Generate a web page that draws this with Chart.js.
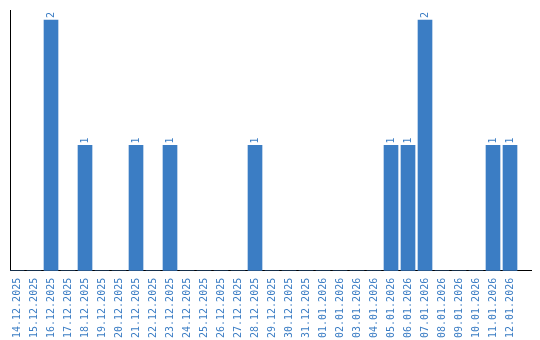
<!DOCTYPE html>
<html>
<head>
<meta charset="utf-8">
<script src="https://cdn.jsdelivr.net/npm/chart.js@4/dist/chart.umd.min.js"></script>
<style>
html,body{margin:0;padding:0;background:#fff;}
#wrap{width:540px;height:340px;}
</style>
</head>
<body>
<div id="wrap"><canvas id="c" width="540" height="340"></canvas></div>
<script>
const categories = ["14.12.2025","15.12.2025","16.12.2025","17.12.2025","18.12.2025","19.12.2025","20.12.2025","21.12.2025","22.12.2025","23.12.2025","24.12.2025","25.12.2025","26.12.2025","27.12.2025","28.12.2025","29.12.2025","30.12.2025","31.12.2025","01.01.2026","02.01.2026","03.01.2026","04.01.2026","05.01.2026","06.01.2026","07.01.2026","08.01.2026","09.01.2026","10.01.2026","11.01.2026","12.01.2026"];
const counts = [0,0,2,0,1,0,0,1,0,1,0,0,0,0,1,0,0,0,0,0,0,0,1,1,2,0,0,0,1,1];

const BLUE = '#3b7dc4';
const FONT = '"DejaVu Sans Mono"';

const valueLabels = {
  id: 'valueLabels',
  afterDatasetsDraw(chart) {
    const ctx = chart.ctx;
    const meta = chart.getDatasetMeta(0);
    ctx.save();
    ctx.fillStyle = BLUE;
    ctx.font = '10px ' + FONT;
    ctx.textAlign = 'left';
    ctx.textBaseline = 'middle';
    meta.data.forEach((el, i) => {
      const v = counts[i];
      if (!v) return;
      ctx.save();
      ctx.translate(el.x, el.y - 2);
      ctx.rotate(-Math.PI / 2);
      ctx.fillText(String(v), 0, 0);
      ctx.restore();
    });
    ctx.restore();
  }
};

new Chart(document.getElementById('c'), {
  type: 'bar',
  data: {
    datasets: [{
      data: counts.map((v, i) => ({x: i, y: v})),
      backgroundColor: BLUE,
      borderWidth: 0,
      barThickness: 14
    }]
  },
  options: {
    responsive: false,
    animation: false,
    events: [],
    layout: {padding: {left: 10, top: 10, right: 9, bottom: -5}},
    plugins: {legend: {display: false}, tooltip: {enabled: false}},
    scales: {
      x: {
        type: 'linear',
        offset: false,
        min: -0.412,
        max: 30.235,
        grid: {display: false, drawTicks: false, offset: false},
        border: {display: true, color: '#000', width: 1},
        afterBuildTicks(scale) {
          scale.ticks = categories.map((_, i) => ({value: i}));
        },
        ticks: {
          autoSkip: false,
          minRotation: 90,
          maxRotation: 90,
          padding: 7,
          color: BLUE,
          font: {family: FONT, size: 10},
          callback: (v) => categories[v] ?? ''
        }
      },
      y: {
        min: 0,
        max: 2.08,
        grid: {display: false, drawTicks: false},
        border: {display: true, color: '#000', width: 1},
        ticks: {display: false}
      }
    }
  },
  plugins: [valueLabels]
});
</script>
</body>
</html>
